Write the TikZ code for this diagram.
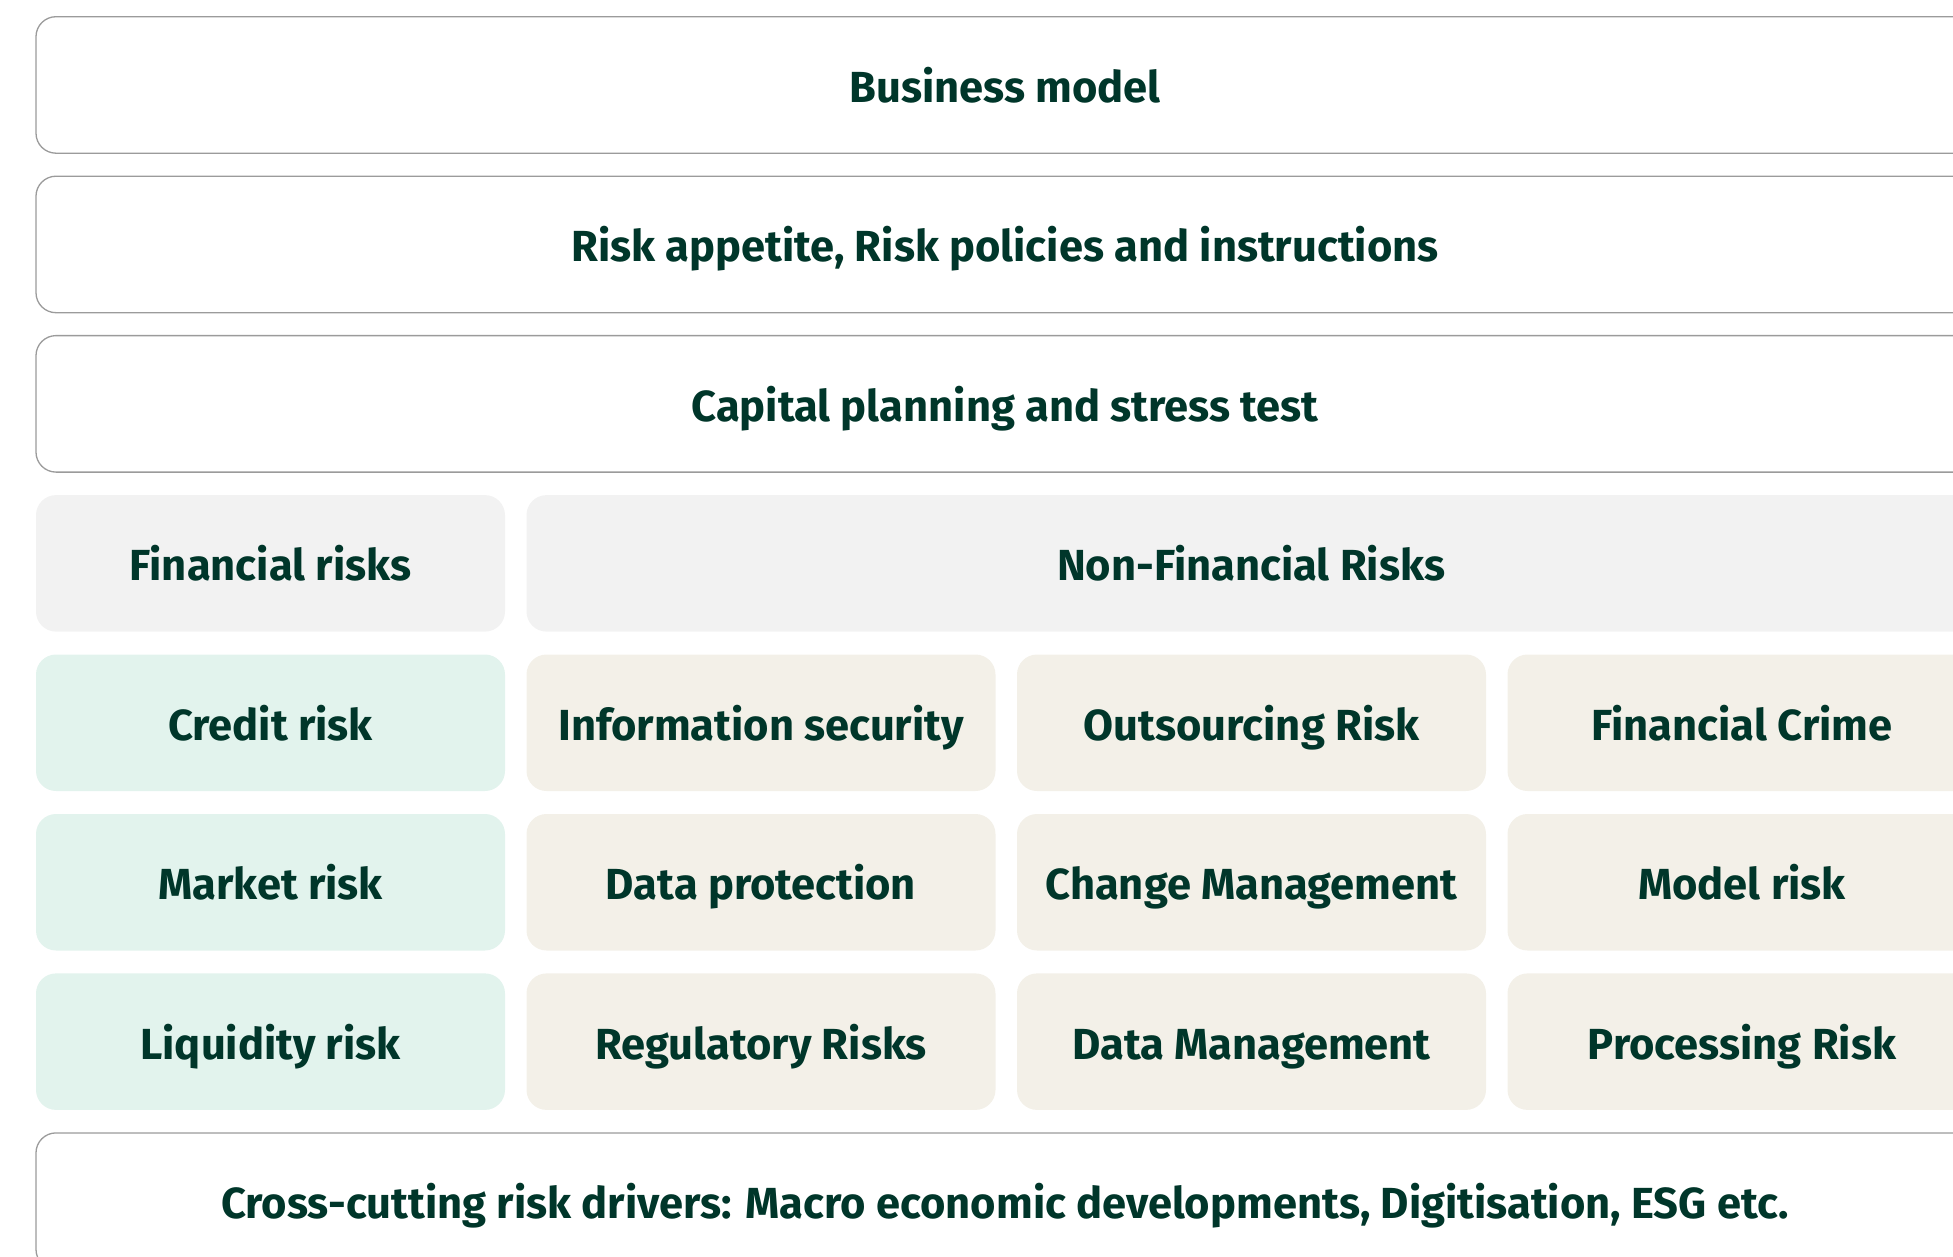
\documentclass[tikz,border=0pt]{standalone}
\usepackage{fontspec}
\setmainfont{Fira Sans}[Ligatures=NoCommon]
\definecolor{ink}{HTML}{00362A}
\definecolor{frame}{HTML}{9B9B9B}
\definecolor{headfill}{HTML}{F2F2F2}
\definecolor{finfill}{HTML}{E2F3ED}
\definecolor{nffill}{HTML}{F3F0E8}
\tikzset{
  label text/.style={text=ink, font=\fontsize{43.5}{52}\selectfont\bfseries,
    text height=35pt, text depth=0pt, inner sep=0pt, outer sep=0pt,
    anchor=north west, rounded corners=20pt},
  band/.style={label text, draw=frame, line width=1.3pt, fill=white,
    minimum width=1938pt, minimum height=136.5pt},
  tile/.style={label text, minimum width=469pt, minimum height=136.5pt},
  head/.style={tile, fill=headfill},
  fin/.style={tile, fill=finfill},
  nonfin/.style={tile, fill=nffill},
}
\begin{document}
\begin{tikzpicture}[x=1pt, y=-1pt]
  \useasboundingbox (0,0) rectangle (1953,1257);
  % framework layers
  \node[band] (bm)  at (36,16.7)  {Business model};
  \node[band] (rap) at (36,176.2) {Risk appetite, Risk policies and instructions};
  \node[band] (cap) at (36,335.6) {Capital planning and stress test};
  % risk category headers
  \node[head] (fr)  at (36,495.1) {Financial risks};
  \node[head, minimum width=1449pt] (nfr) at (526.5,495.1) {Non-Financial Risks};
  % financial risks
  \node[fin] (credit) at (36,654.5) {Credit risk};
  \node[fin] (market) at (36,814)   {Market risk};
  \node[fin] (liq)    at (36,973.4) {Liquidity risk};
  % non-financial risks
  \node[nonfin] (infosec) at (526.5,654.5) {Information security};
  \node[nonfin] (outs)    at (1017,654.5)  {Outsourcing Risk};
  \node[nonfin] (fincrime) at (1507.5,654.5) {Financial Crime};
  \node[nonfin] (dprot)   at (526.5,814)   {Data protection};
  \node[nonfin] (change)  at (1017,814)    {Change Management};
  \node[nonfin] (model)   at (1507.5,814)  {Model risk};
  \node[nonfin] (reg)     at (526.5,973.4) {Regulatory Risks};
  \node[nonfin] (dmgmt)   at (1017,973.4)  {Data Management};
  \node[nonfin] (proc)    at (1507.5,973.4) {Processing Risk};
  % cross-cutting drivers
  \node[band] (cross) at (36,1132.9) {Cross-cutting risk drivers: Macro economic developments, Digitisation, ESG etc.};
\end{tikzpicture}
\end{document}
